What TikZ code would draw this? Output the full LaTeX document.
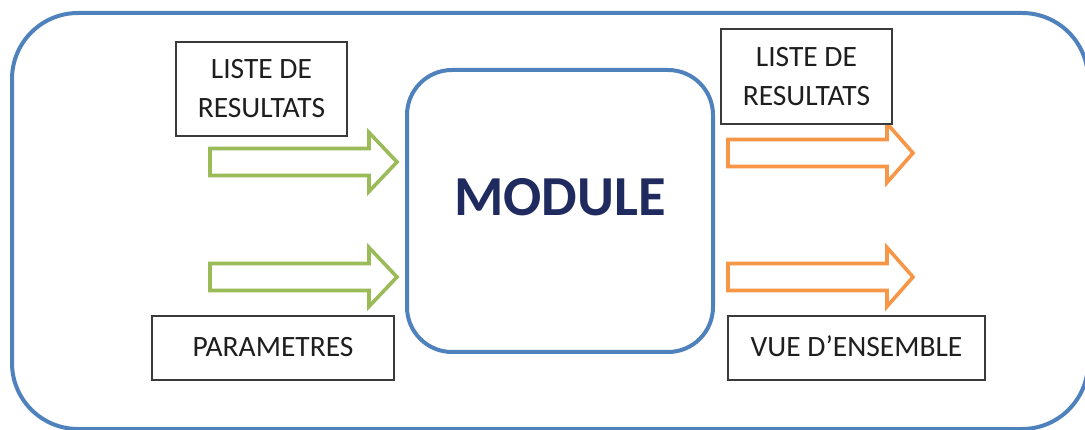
\documentclass[tikz,border=0pt]{standalone}
\usepackage{fontspec}
\setmainfont{Carlito}
\definecolor{frameblue}{HTML}{4F81BD}
\definecolor{ingreen}{HTML}{9BBB59}
\definecolor{outorange}{HTML}{F79646}
\definecolor{navy}{HTML}{1F2A5E}
\definecolor{boxgray}{HTML}{3A3A3A}
\definecolor{txt}{HTML}{1E1E1E}
\newcommand{\blockarrow}[5]{% color, xleft, ycenter, xheadbase, xtip
  \draw[#1, line width=3.6pt, line join=miter, fill=white]
    (#2,#3-13.5) -- (#4,#3-13.5) -- (#4,#3-29.5) -- (#5,#3)
    -- (#4,#3+29.5) -- (#4,#3+13.5) -- (#2,#3+13.5) -- cycle;}
\begin{document}
\begin{tikzpicture}[x=1pt,y=-1pt,
  label/.style={draw=boxgray, line width=1.1pt, fill=white, text=txt,
    font=\fontsize{29.5}{39}\selectfont, align=center, inner sep=0pt},
  frame/.style={draw=frameblue, line width=4pt}]
\useasboundingbox (0,0) rectangle (1085,430);
\clip (0,0) rectangle (1085,430);
% outer frame
\node[frame, rounded corners=66pt, minimum width=1076pt, minimum height=416pt, inner sep=0pt]
  (outer) at (550,221) {};
% module
\node[frame, rounded corners=45pt, minimum width=306pt, minimum height=282pt, inner sep=0pt,
  text=navy, font=\fontsize{56.5}{60}\selectfont\bfseries]
  (module) at (560,211) {\raisebox{29pt}{MODULE}};
% arrows
\blockarrow{ingreen}{210}{162}{369}{397}
\blockarrow{ingreen}{210}{277}{369}{397}
\blockarrow{outorange}{728}{153}{887}{913}
\blockarrow{outorange}{728}{277}{887}{913}
% labels
\node[label, minimum width=171pt, minimum height=94pt] (lin) at (261.5,89) {LISTE DE\\RESULTATS};
\node[label, minimum width=171pt, minimum height=95pt] (lout) at (806.5,76.5) {LISTE DE\\RESULTATS};
\node[label, minimum width=242pt, minimum height=64pt] (param) at (273,348) {\raisebox{3pt}{PARAMETRES}};
\node[label, minimum width=257pt, minimum height=64pt] (vue) at (856.5,348) {\raisebox{3pt}{VUE D’ENSEMBLE}};
\end{tikzpicture}
\end{document}
